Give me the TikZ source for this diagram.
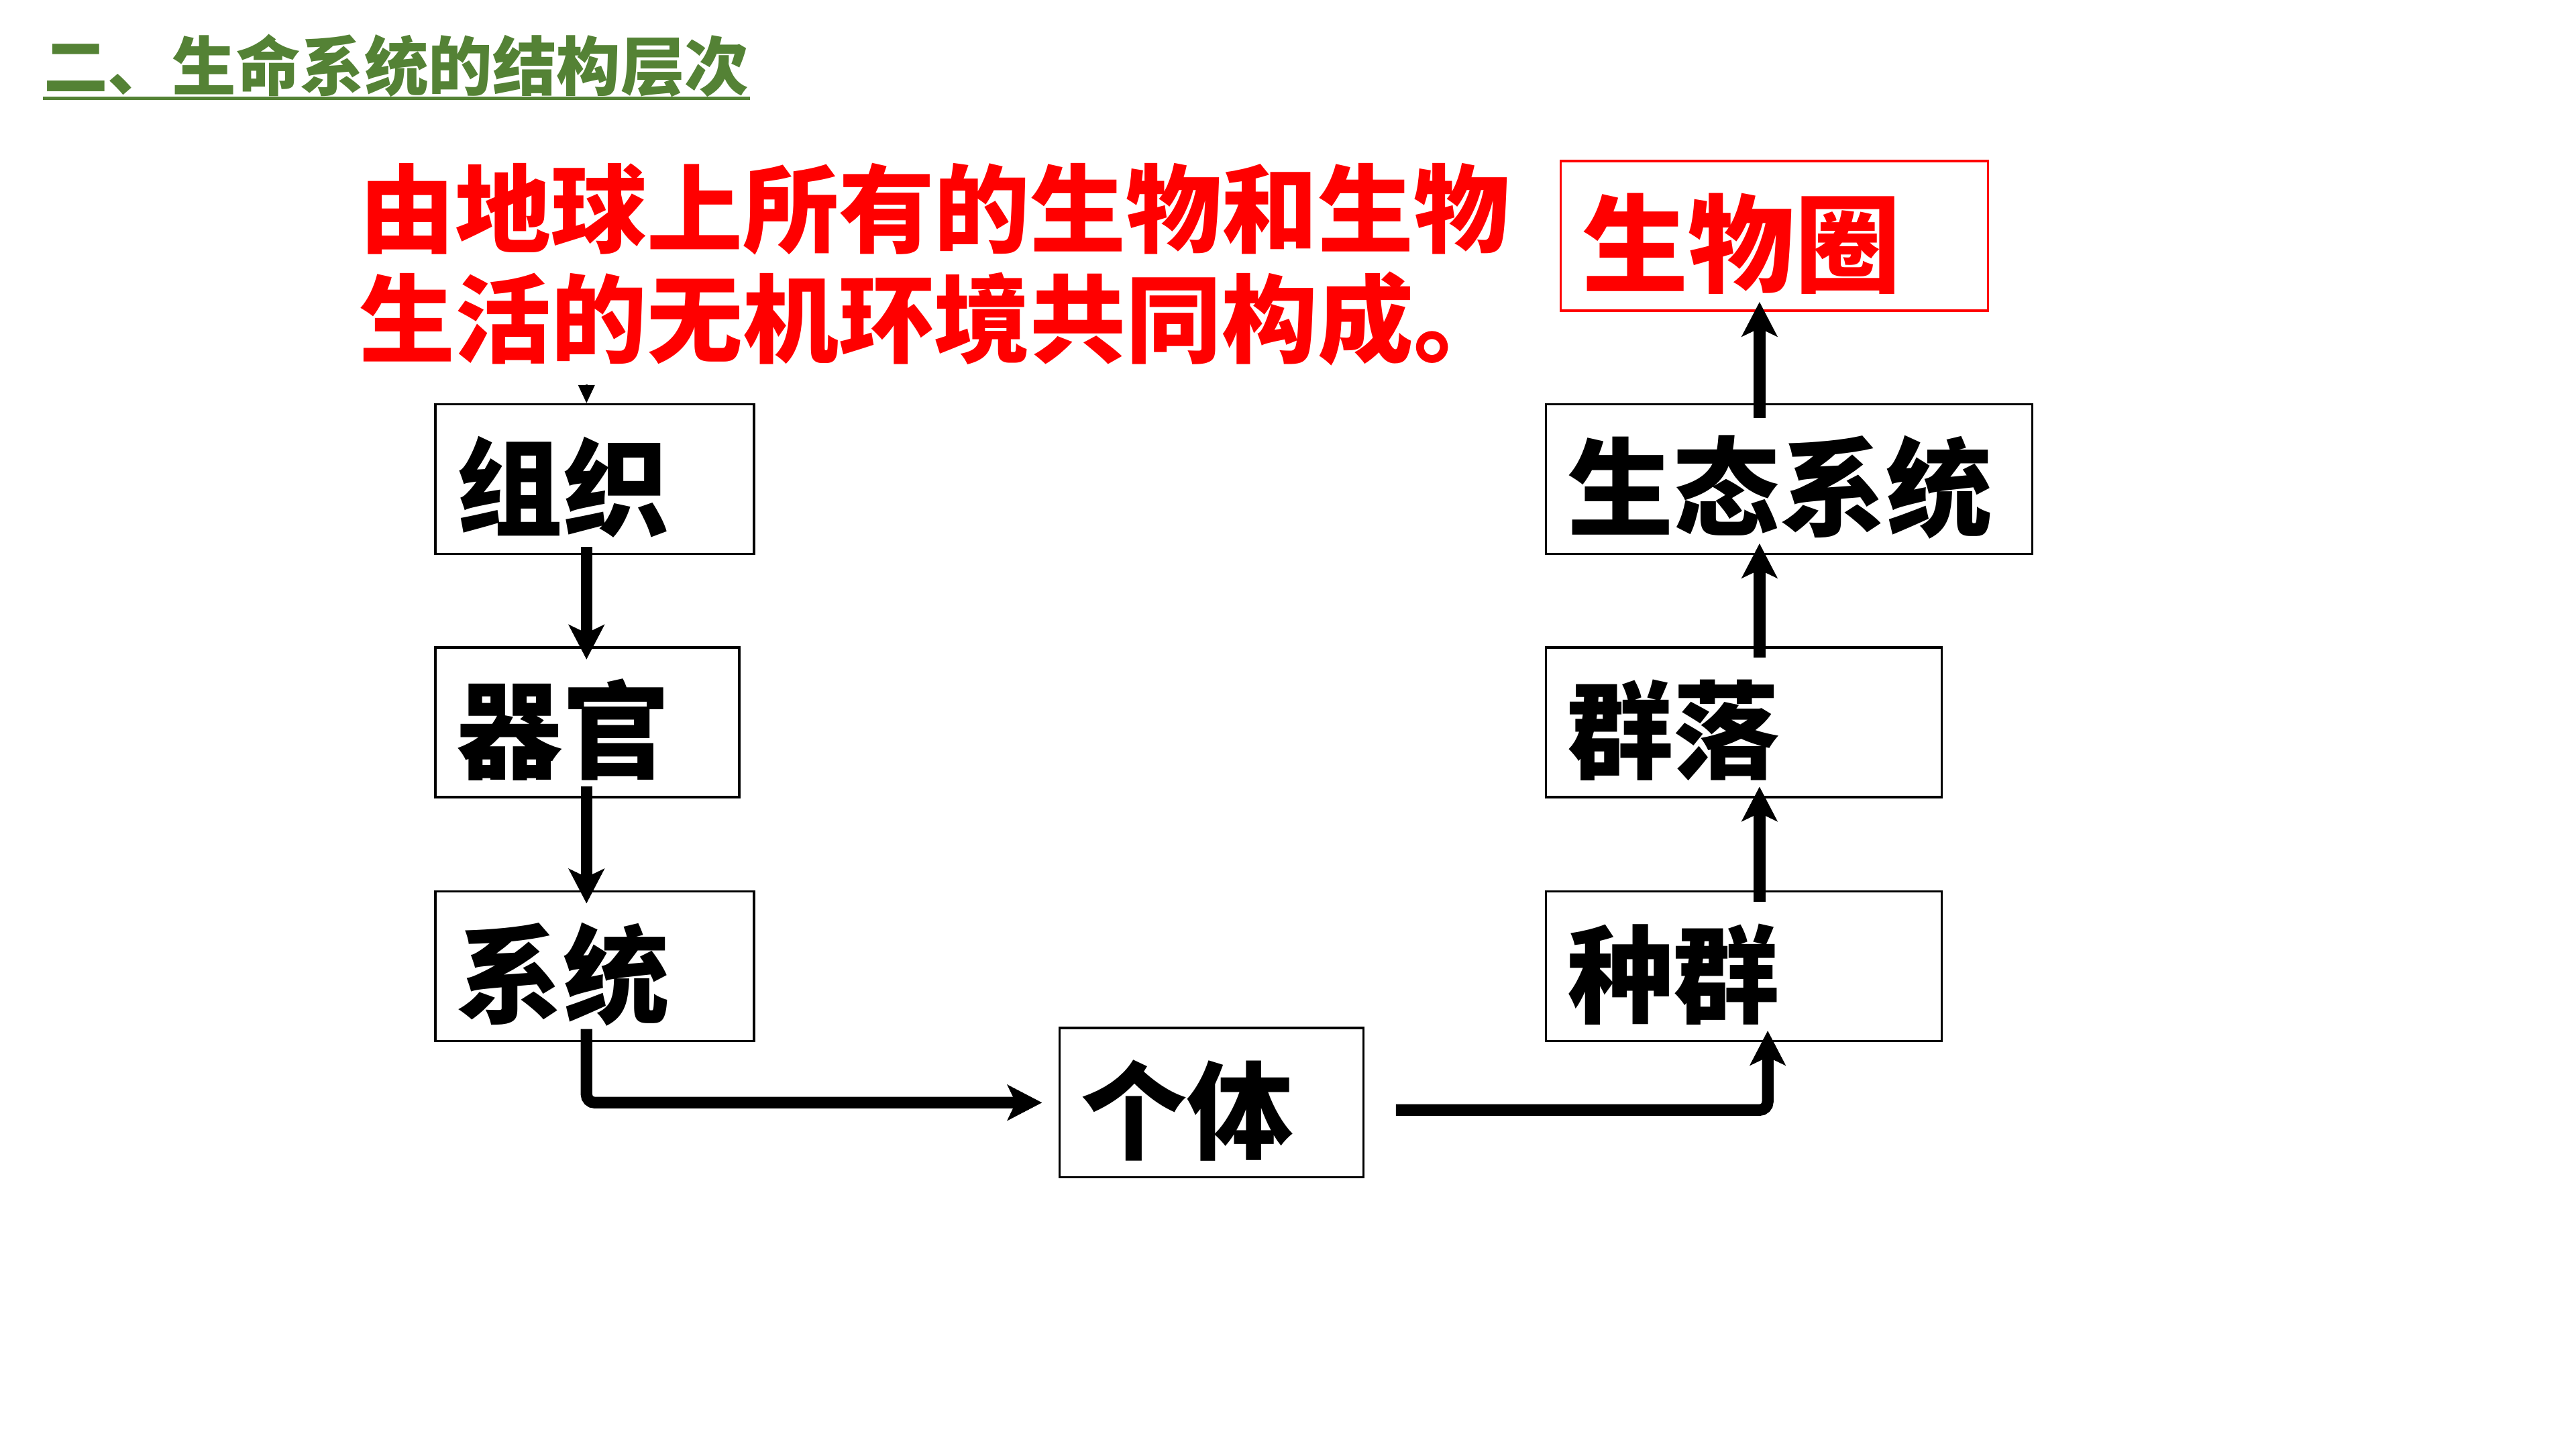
\documentclass[tikz,border=0pt]{standalone}
\usepackage{fontspec}
\newfontfamily\cjk{Noto Sans CJK SC}
\usetikzlibrary{arrows.meta}
\definecolor{titlegreen}{RGB}{84,130,53}

\begin{document}
\begin{tikzpicture}[
  lvl/.style={draw,line width=0.4pt,inner xsep=0.13cm,inner ysep=0,minimum height=0.91cm,text height=0.67cm,text depth=0.08cm,align=left,font=\cjk\bfseries\fontsize{18.4pt}{20pt}\selectfont},
  flow/.style={line width=2pt,-{Stealth[length=0.21cm,width=0.215cm,inset=0.05cm]}}
]
\useasboundingbox (0,0) rectangle (15.68,-8.82);

% title
\node[anchor=west,inner sep=0,text=titlegreen,font=\cjk\bfseries\fontsize{11.1pt}{13pt}\selectfont] (title) at (0.26,-0.40) {二、生命系统的结构层次};
\draw[titlegreen,line width=0.6pt] (title.south west) -- (title.south east);

% definition text
\node[anchor=west,inner sep=0,align=left,text=red,font=\cjk\bfseries\fontsize{16.6pt}{19.1pt}\selectfont] (defn) at (2.18,-1.61) {由地球上所有的生物和生物\\生活的无机环境共同构成。};

% levels, left column
\node[lvl,text width=1.68cm] (zuzhi) at (3.62,-2.915) {组织};
\node[lvl,text width=1.59cm] (qiguan) at (3.575,-4.395) {器官};
\node[lvl,text width=1.68cm] (xitong) at (3.62,-5.88) {系统};
\node[lvl,text width=1.59cm] (geti) at (7.375,-6.71) {个体};
% levels, right column
\node[lvl,text width=2.15cm] (zhongqun) at (10.615,-5.88) {种群};
\node[lvl,text width=2.15cm] (qunluo) at (10.615,-4.395) {群落};
\node[lvl,text width=2.70cm] (shengtai) at (10.89,-2.915) {生态系统};
\node[lvl,draw=red,text=red,text width=2.34cm] (quan) at (10.80,-1.435) {生物圈};

\coordinate (lx) at (3.57,0);
\coordinate (rx) at (10.71,0);
\coordinate (sx) at (10.76,0);
\coordinate (tiptop) at (3.57,-2.34);

% arrows
\draw[line width=0.3pt,-{Triangle[length=0.11cm,width=0.10cm]}] (tiptop) -- (zuzhi.north -| lx);
\draw[flow,shorten <=-0.05cm,shorten >=-0.08cm] (zuzhi.south -| lx) -- (qiguan.north -| lx);
\draw[flow,shorten <=-0.07cm,shorten >=-0.08cm] (qiguan.south -| lx) -- (xitong.north -| lx);
\draw[flow,rounded corners=0.05cm,shorten <=-0.08cm,shorten >=0.10cm] (xitong.south -| lx) |- (geti.west);
\draw[flow,rounded corners=0.05cm,shorten <=0.19cm,shorten >=-0.07cm] ([yshift=-0.045cm]geti.east) -| (zhongqun.south -| sx);
\draw[flow,shorten <=-0.07cm,shorten >=-0.07cm] (zhongqun.north -| rx) -- (qunluo.south -| rx);
\draw[flow,shorten <=-0.07cm,shorten >=-0.07cm] (qunluo.north -| rx) -- (shengtai.south -| rx);
\draw[flow,shorten <=-0.09cm,shorten >=-0.06cm] (shengtai.north -| rx) -- (quan.south -| rx);
\end{tikzpicture}
\end{document}
